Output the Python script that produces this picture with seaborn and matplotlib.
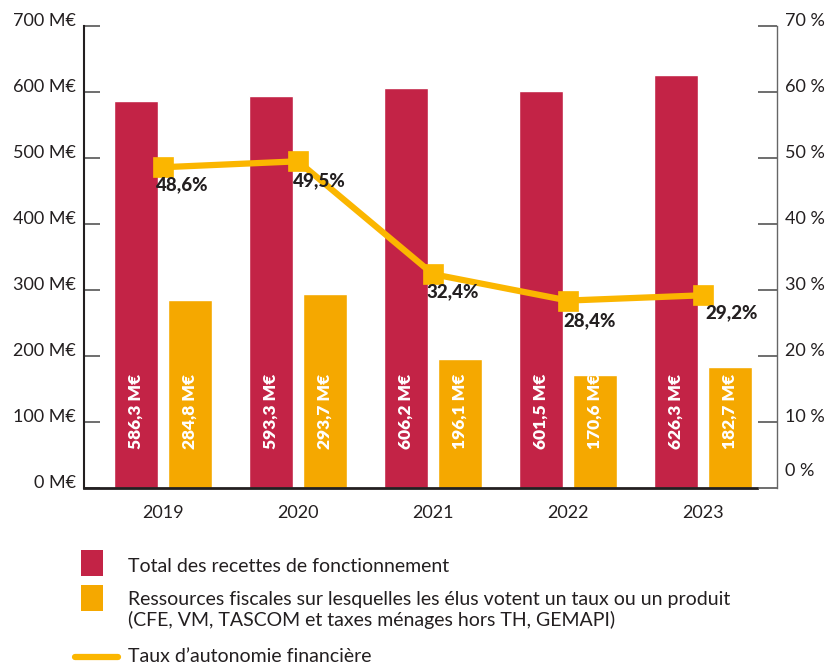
import matplotlib
matplotlib.use("Agg")
import matplotlib.pyplot as plt
import matplotlib.transforms as mtransforms
from matplotlib.patches import Rectangle
from matplotlib.lines import Line2D
import seaborn as sns
import pandas as pd

sns.set_theme(style="white")
plt.rcParams['font.family'] = ['Lato', 'DejaVu Sans']

years = ["2019", "2020", "2021", "2022", "2023"]
recettes = [586.3, 593.3, 606.2, 601.5, 626.3]
ressources = [284.8, 293.7, 196.1, 170.6, 182.7]
taux = [48.6, 49.5, 32.4, 28.4, 29.2]
left_ticks = [0, 100, 200, 300, 400, 500, 600, 700]
left_labels = ["0 M€", "100 M€", "200 M€", "300 M€", "400 M€", "500 M€", "600 M€", "700 M€"]
right_ticks = [0, 10, 20, 30, 40, 50, 60, 70]
right_labels = ["0 %", "10 %", "20 %", "30 %", "40 %", "50 %", "60 %", "70 %"]
series_names = ["Total des recettes de fonctionnement",
                "Ressources fiscales sur lesquelles les élus votent un taux ou un produit\n(CFE, VM, TASCOM et taxes ménages hors TH, GEMAPI)"]
line_name = "Taux d’autonomie financière"

RED = "#C32346"
ORANGE = "#F5A800"
LINE = "#FBB600"
DARK = "#231F20"

df = pd.DataFrame({
    "year": years * 2,
    "value": recettes + ressources,
    "serie": [series_names[0]] * 5 + [series_names[1]] * 5,
})
dft = pd.DataFrame({"year": years, "taux": taux})

fig = plt.figure(figsize=(8.34, 6.65), dpi=100)
ax = fig.add_axes([84/834, 1-488/665, (777-84)/834, (488-26)/665])

sns.barplot(data=df, x="year", y="value", hue="serie", palette=[RED, ORANGE],
            width=0.8, gap=0.185, dodge=True, saturation=1, ax=ax, legend=False)

# value labels inside bars
for patch in ax.patches:
    h = patch.get_height()
    if h <= 0:
        continue
    cx = patch.get_x() + patch.get_width() / 2
    txt = f"{h:.1f}".replace(".", ",") + " M€"
    ax.text(cx, 116, txt, rotation=90, ha="center", va="center",
            color="white", fontsize=12.5, fontweight="heavy")

ax.set_ylim(0, 700)
ax.set_yticks(left_ticks)
ax.set_yticklabels(left_labels)
ax.set_xlabel("")
ax.set_ylabel("")

ax2 = ax.twinx()
sns.pointplot(data=dft, x="year", y="taux", color=LINE, markers="s",
              markersize=11, linewidth=4.5, ax=ax2)
ax2.set_ylim(0, 70)
ax2.set_yticks(right_ticks)
ax2.set_yticklabels(right_labels)
ax2.set_xlabel("")
ax2.set_ylabel("")

offsets = [(-7, -9), (-5, -11), (-6, -9), (-5, -12), (2, -9)]
for i, (v, off) in enumerate(zip(taux, offsets)):
    ax2.annotate(f"{v:.1f}".replace(".", ",") + "%", (i, v),
                 xytext=off, textcoords="offset pixels",
                 ha="left", va="top", fontsize=13.5, fontweight="black", color=DARK)

ax.set_xlim(-0.585, 4.548)

# spines
for a in (ax, ax2):
    a.spines["top"].set_visible(False)
ax.spines["right"].set_visible(False)
ax2.spines["left"].set_visible(False)
ax2.spines["bottom"].set_visible(False)
ax.spines["left"].set_color(DARK)
ax.spines["left"].set_linewidth(1.5)
ax.spines["bottom"].set_color(DARK)
ax.spines["bottom"].set_linewidth(2.0)
ax.spines["bottom"].set_bounds(-0.585, 4.4)
ax2.spines["right"].set_color("#666666")
ax2.spines["right"].set_linewidth(1.0)

ax.tick_params(axis="y", direction="in", length=11.5, width=1.2, color="#555555",
               labelsize=13, labelcolor=DARK, pad=6)
ax.tick_params(axis="x", length=0, labelsize=13, labelcolor=DARK, pad=12)
ax2.tick_params(axis="y", direction="in", length=13.5, width=1.2, color="#555555",
                labelsize=13, labelcolor=DARK, pad=6)

# shift tick labels up a bit, as in reference
up = mtransforms.ScaledTranslation(0, 7/100, fig.dpi_scale_trans)
for lbl in ax.get_yticklabels():
    lbl.set_transform(lbl.get_transform() + up)
for i, lbl in enumerate(ax2.get_yticklabels()):
    dy = 18 if i == 0 else 7
    lbl.set_transform(lbl.get_transform() + mtransforms.ScaledTranslation(0, dy/100, fig.dpi_scale_trans))

# legend (manual)
W, H = 834, 665
def fx(x): return x / W
def fy(y): return 1 - y / H
fig.patches.append(Rectangle((fx(81), fy(576)), 22/W, 26/H, transform=fig.transFigure,
                             facecolor=RED, edgecolor="none"))
fig.patches.append(Rectangle((fx(81), fy(611)), 22/W, 26/H, transform=fig.transFigure,
                             facecolor=ORANGE, edgecolor="none"))
fig.lines.append(Line2D([fx(75), fx(118)], [fy(657), fy(657)], transform=fig.transFigure,
                        color=LINE, linewidth=4.5))
fig.text(fx(128), fy(566), series_names[0], fontsize=14, color=DARK, va="center")
fig.text(fx(128), fy(610), series_names[1], fontsize=14, color=DARK, va="center",
         linespacing=1.2)
fig.text(fx(128), fy(657), line_name, fontsize=14, color=DARK, va="center")

fig.savefig("out.png", dpi=100)
